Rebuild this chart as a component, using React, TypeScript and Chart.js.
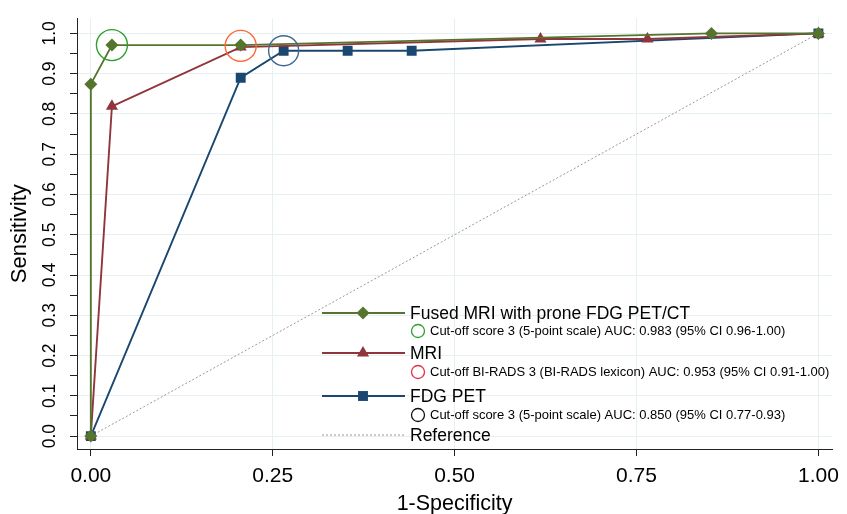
import React, { useEffect, useRef } from 'react';
import { Chart, registerables } from 'chart.js';

Chart.register(...registerables);

// ---- Data ----
const fusedX = [0, 0, 0.029, 0.206, 0.853, 1];
const fusedY = [0, 0.874, 0.971, 0.971, 1.0, 1];

const mriX = [0, 0.029, 0.206, 0.618, 0.765, 1];
const mriY = [0, 0.819, 0.966, 0.986, 0.986, 1];

const petX = [0, 0.206, 0.265, 0.353, 0.441, 1];
const petY = [0, 0.89, 0.957, 0.957, 0.957, 1];

const referenceX = [0, 1];
const referenceY = [0, 1];

// cut-off points (circled)
const fusedCutoff = { x: 0.029, y: 0.971 };
const mriCutoff = { x: 0.206, y: 0.969 };
const petCutoff = { x: 0.265, y: 0.957 };

const xTickValues = [0, 0.25, 0.5, 0.75, 1];
const xTickLabels = ['0.00', '0.25', '0.50', '0.75', '1.00'];
const yTickValues = [0, 0.05, 0.1, 0.15, 0.2, 0.25, 0.3, 0.35, 0.4, 0.45, 0.5, 0.55, 0.6, 0.65, 0.7, 0.75, 0.8, 0.85, 0.9, 0.95, 1.0];
const yTickLabels = ['0.0', '', '0.1', '', '0.2', '', '0.3', '', '0.4', '', '0.5', '', '0.6', '', '0.7', '', '0.8', '', '0.9', '', '1.0'];

const legendTitles = ['Fused MRI with prone FDG PET/CT', 'MRI', 'FDG PET', 'Reference'];
const legendNotes = [
  'Cut-off score 3 (5-point scale) AUC: 0.983 (95% CI 0.96-1.00)',
  'Cut-off BI-RADS 3 (BI-RADS lexicon) AUC: 0.953 (95% CI 0.91-1.00)',
  'Cut-off score 3 (5-point scale) AUC: 0.850 (95% CI 0.77-0.93)',
];

// ---- Styles ----
const GREEN = '#55752f';
const RED = '#90353b';
const BLUE = '#1a476f';
const GRID = '#e6eff1';
const FONT = '"Liberation Sans", Arial, sans-serif';

const toPoints = (xs: number[], ys: number[]) => xs.map((x, i) => ({ x, y: ys[i] }));

function drawMarker(ctx: CanvasRenderingContext2D, style: string, x: number, y: number, r: number, color: string) {
  ctx.save();
  ctx.fillStyle = color;
  ctx.beginPath();
  if (style === 'rectRot') {
    ctx.moveTo(x, y - r);
    ctx.lineTo(x + r, y);
    ctx.lineTo(x, y + r);
    ctx.lineTo(x - r, y);
  } else if (style === 'triangle') {
    const s = Math.sin(Math.PI / 3) * r;
    ctx.moveTo(x, y - r);
    ctx.lineTo(x + s, y + r / 2);
    ctx.lineTo(x - s, y + r / 2);
  } else {
    const h = Math.SQRT1_2 * r;
    ctx.rect(x - h, y - h, 2 * h, 2 * h);
  }
  ctx.closePath();
  ctx.fill();
  ctx.restore();
}

const legendPlugin = {
  id: 'rocLegend',
  afterDraw(chart: any) {
    const ctx: CanvasRenderingContext2D = chart.ctx;
    const ca = chart.chartArea;
    const lx0 = ca.left + 245;
    const lx1 = ca.left + 328;
    const mx = ca.left + 286;
    const tx = ca.left + 333;
    const cx = ca.left + 341;
    const ntx = ca.left + 353;
    const b = ca.bottom;
    ctx.save();
    ctx.textBaseline = 'middle';
    ctx.textAlign = 'left';
    ctx.fillStyle = '#000';

    const series = [
      { color: GREEN, style: 'rectRot', r: 6.5, y: b - 136, noteY: b - 118, circle: '#2ca02c' },
      { color: RED, style: 'triangle', r: 7, y: b - 96, noteY: b - 77, circle: '#e0304a' },
      { color: BLUE, style: 'rect', r: 7, y: b - 53, noteY: b - 34, circle: '#111111' },
    ];
    series.forEach((s, i) => {
      ctx.strokeStyle = s.color;
      ctx.lineWidth = 1.9;
      ctx.beginPath();
      ctx.moveTo(lx0, s.y);
      ctx.lineTo(lx1, s.y);
      ctx.stroke();
      drawMarker(ctx, s.style, mx, s.y, s.r, s.color);
      ctx.fillStyle = '#000';
      ctx.font = `17.5px ${FONT}`;
      ctx.fillText(legendTitles[i], tx, s.y + 1);
      ctx.strokeStyle = s.circle;
      ctx.lineWidth = 1.3;
      ctx.beginPath();
      ctx.arc(cx, s.noteY, 6.5, 0, Math.PI * 2);
      ctx.stroke();
      ctx.font = `13px ${FONT}`;
      ctx.fillText(legendNotes[i], ntx, s.noteY + 0.5);
    });
    // reference
    const ry = b - 14;
    ctx.strokeStyle = '#9a9a9a';
    ctx.lineWidth = 1;
    ctx.setLineDash([2, 2]);
    ctx.beginPath();
    ctx.moveTo(lx0, ry);
    ctx.lineTo(lx1, ry);
    ctx.stroke();
    ctx.setLineDash([]);
    ctx.font = `17.5px ${FONT}`;
    ctx.fillText(legendTitles[3], tx, ry + 1);
    ctx.restore();
  },
};

export default function App() {
  const ref = useRef<HTMLCanvasElement | null>(null);
  useEffect(() => {
    document.body.style.margin = '0';
    const canvas = ref.current;
    if (!canvas) return;
    const chart = new Chart(canvas, {
      type: 'scatter',
      data: {
        datasets: [
          {
            label: 'Fused cut-off',
            data: [fusedCutoff],
            pointStyle: 'circle',
            pointRadius: 15.5,
            pointBorderWidth: 1.4,
            pointBorderColor: '#2ca02c',
            pointBackgroundColor: 'rgba(0,0,0,0)',
            showLine: false,
          },
          {
            label: 'MRI cut-off',
            data: [mriCutoff],
            pointStyle: 'circle',
            pointRadius: 15.5,
            pointBorderWidth: 1.4,
            pointBorderColor: '#ff6633',
            pointBackgroundColor: 'rgba(0,0,0,0)',
            showLine: false,
          },
          {
            label: 'PET cut-off',
            data: [petCutoff],
            pointStyle: 'circle',
            pointRadius: 15,
            pointBorderWidth: 1.4,
            pointBorderColor: '#3a6796',
            pointBackgroundColor: 'rgba(0,0,0,0)',
            showLine: false,
          },
          {
            label: legendTitles[0],
            data: toPoints(fusedX, fusedY),
            showLine: true,
            borderColor: GREEN,
            borderWidth: 1.9,
            pointStyle: 'rectRot',
            pointRadius: 6.5,
            pointBorderWidth: 0,
            pointBackgroundColor: GREEN,
          },
          {
            label: legendTitles[1],
            data: toPoints(mriX, mriY),
            showLine: true,
            borderColor: RED,
            borderWidth: 1.9,
            pointStyle: 'triangle',
            pointRadius: 7,
            pointBorderWidth: 0,
            pointBackgroundColor: RED,
          },
          {
            label: legendTitles[2],
            data: toPoints(petX, petY),
            showLine: true,
            borderColor: BLUE,
            borderWidth: 1.9,
            pointStyle: 'rect',
            pointRadius: 7,
            pointBorderWidth: 0,
            pointBackgroundColor: BLUE,
          },
          {
            label: legendTitles[3],
            data: toPoints(referenceX, referenceY),
            showLine: true,
            borderColor: '#9a9a9a',
            borderWidth: 1,
            borderDash: [2, 2],
            pointRadius: 0,
          },
        ],
      },
      options: {
        responsive: false,
        animation: false,
        devicePixelRatio: 1,
        layout: { padding: { top: 13, right: 9, left: 0, bottom: 0 }, autoPadding: false },
        plugins: { legend: { display: false }, tooltip: { enabled: false } },
        scales: {
          x: {
            type: 'linear',
            min: -0.019,
            max: 1.019,
            afterFit: (s: any) => { s.height = 65; },
            afterBuildTicks: (s: any) => { s.ticks = xTickValues.map((v) => ({ value: v })); },
            ticks: {
              autoSkip: false,
              maxRotation: 0,
              minRotation: 0,
              padding: 8,
              color: '#000',
              font: { family: FONT, size: 21 },
              callback: (_v: any, i: number) => xTickLabels[i],
            },
            grid: { color: GRID, lineWidth: 1, tickColor: '#222', tickLength: 7 },
            border: { display: true, color: '#222', width: 1 },
            title: {
              display: true,
              text: '1-Specificity',
              color: '#000',
              font: { family: FONT, size: 21.5, lineHeight: 1 },
              padding: { top: 0, bottom: -1 },
            },
          },
          y: {
            type: 'linear',
            min: -0.032,
            max: 1.037,
            afterFit: (s: any) => { s.width = 77; },
            afterBuildTicks: (s: any) => { s.ticks = yTickValues.map((v) => ({ value: v })); },
            ticks: {
              autoSkip: false,
              minRotation: 90,
              maxRotation: 90,
              crossAlign: 'center',
              padding: 8,
              color: '#000',
              font: { family: FONT, size: 17.5 },
              callback: (_v: any, i: number) => yTickLabels[i],
            },
            grid: {
              color: (c: any) => (c.index % 2 === 0 ? GRID : 'rgba(0,0,0,0)'),
              lineWidth: 1,
              tickColor: '#222',
              tickLength: 7,
            },
            border: { display: true, color: '#222', width: 1 },
            title: {
              display: true,
              text: 'Sensitivity',
              color: '#000',
              font: { family: FONT, size: 22, lineHeight: 1 },
              padding: { top: 9, bottom: 0 },
            },
          },
        },
      },
      plugins: [legendPlugin],
    } as any);
    return () => chart.destroy();
  }, []);
  return (
    <div style={{ width: 847, height: 514, background: '#fff' }}>
      <canvas ref={ref} width={847} height={514} style={{ display: 'block' }} />
    </div>
  );
}
